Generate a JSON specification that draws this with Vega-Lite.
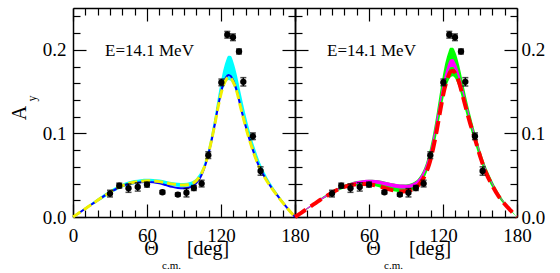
{
  "$schema": "https://vega.github.io/schema/vega-lite/v6.json",
  "autosize": {"type": "pad"},
  "padding": {"left": 10, "top": 7, "right": 0, "bottom": 0},
  "background": "white",
  "spacing": 0,
  "bounds": "flush",
  "config": {
    "font": "Liberation Serif",
    "view": {"stroke": null},
    "axis": {"grid": false, "domainColor": "#000", "domainWidth": 1.5, "tickColor": "#000", "tickWidth": 1.2, "labelFont": "Liberation Serif", "labelFontSize": 19, "labelColor": "#000", "title": null, "labelOverlap": false, "labelFlush": false, "zindex": 1},
    "text": {"font": "Liberation Serif", "color": "#000"}
  },
  "datasets": {
    "curves": [
      {"x":0,"blue":0,"yel":0,"clo":0,"chi":0,"red":0,"mlo":0,"mhi":0,"glo":0,"ghi":0},
      {"x":5,"blue":0.005,"yel":0.005,"clo":0.0045,"chi":0.0058,"red":0.005,"mlo":0.0048,"mhi":0.0055,"glo":0.0045,"ghi":0.0056},
      {"x":10,"blue":0.010,"yel":0.010,"clo":0.0092,"chi":0.0113,"red":0.010,"mlo":0.0097,"mhi":0.011,"glo":0.0093,"ghi":0.0112},
      {"x":15,"blue":0.015,"yel":0.015,"clo":0.0138,"chi":0.0167,"red":0.015,"mlo":0.0145,"mhi":0.016,"glo":0.014,"ghi":0.0165},
      {"x":20,"blue":0.020,"yel":0.020,"clo":0.0183,"chi":0.022,"red":0.020,"mlo":0.0193,"mhi":0.021,"glo":0.0187,"ghi":0.0215},
      {"x":25,"blue":0.025,"yel":0.025,"clo":0.0228,"chi":0.0272,"red":0.0245,"mlo":0.024,"mhi":0.026,"glo":0.0232,"ghi":0.0265},
      {"x":30,"blue":0.0295,"yel":0.0297,"clo":0.0273,"chi":0.032,"red":0.029,"mlo":0.0285,"mhi":0.0305,"glo":0.0275,"ghi":0.031},
      {"x":35,"blue":0.0335,"yel":0.034,"clo":0.0316,"chi":0.0362,"red":0.033,"mlo":0.0325,"mhi":0.0345,"glo":0.0315,"ghi":0.035},
      {"x":40,"blue":0.037,"yel":0.0375,"clo":0.0352,"chi":0.0398,"red":0.036,"mlo":0.0357,"mhi":0.038,"glo":0.0345,"ghi":0.0385},
      {"x":45,"blue":0.0393,"yel":0.040,"clo":0.0378,"chi":0.0424,"red":0.038,"mlo":0.0381,"mhi":0.0408,"glo":0.0366,"ghi":0.041},
      {"x":50,"blue":0.0408,"yel":0.0418,"clo":0.0396,"chi":0.0442,"red":0.0392,"mlo":0.0396,"mhi":0.0428,"glo":0.0378,"ghi":0.043},
      {"x":55,"blue":0.0417,"yel":0.0428,"clo":0.0406,"chi":0.0453,"red":0.0396,"mlo":0.0404,"mhi":0.044,"glo":0.0382,"ghi":0.0441},
      {"x":60,"blue":0.042,"yel":0.0433,"clo":0.0411,"chi":0.0458,"red":0.0392,"mlo":0.0405,"mhi":0.0445,"glo":0.0379,"ghi":0.0446},
      {"x":65,"blue":0.0415,"yel":0.0431,"clo":0.041,"chi":0.0456,"red":0.038,"mlo":0.040,"mhi":0.0442,"glo":0.0367,"ghi":0.0443},
      {"x":70,"blue":0.0402,"yel":0.0423,"clo":0.0401,"chi":0.0448,"red":0.036,"mlo":0.0388,"mhi":0.0432,"glo":0.0348,"ghi":0.0433},
      {"x":75,"blue":0.0383,"yel":0.041,"clo":0.0388,"chi":0.0435,"red":0.0337,"mlo":0.037,"mhi":0.0415,"glo":0.0326,"ghi":0.0417},
      {"x":80,"blue":0.0362,"yel":0.0396,"clo":0.0373,"chi":0.042,"red":0.0317,"mlo":0.0352,"mhi":0.040,"glo":0.0307,"ghi":0.0402},
      {"x":85,"blue":0.0348,"yel":0.0386,"clo":0.0363,"chi":0.041,"red":0.0305,"mlo":0.0341,"mhi":0.0388,"glo":0.0296,"ghi":0.039},
      {"x":90,"blue":0.0345,"yel":0.0382,"clo":0.0359,"chi":0.0406,"red":0.0307,"mlo":0.034,"mhi":0.0387,"glo":0.0298,"ghi":0.039},
      {"x":95,"blue":0.0357,"yel":0.0392,"clo":0.037,"chi":0.0418,"red":0.0328,"mlo":0.0355,"mhi":0.0402,"glo":0.0318,"ghi":0.0406},
      {"x":100,"blue":0.0405,"yel":0.0435,"clo":0.0412,"chi":0.0465,"red":0.0378,"mlo":0.0405,"mhi":0.0452,"glo":0.0365,"ghi":0.046},
      {"x":103,"blue":0.0465,"yel":0.049,"clo":0.0468,"chi":0.0525,"red":0.0435,"mlo":0.0465,"mhi":0.0515,"glo":0.042,"ghi":0.0528},
      {"x":106,"blue":0.0565,"yel":0.058,"clo":0.0558,"chi":0.0625,"red":0.052,"mlo":0.0555,"mhi":0.0615,"glo":0.0502,"ghi":0.0635},
      {"x":109,"blue":0.0705,"yel":0.0715,"clo":0.0693,"chi":0.0775,"red":0.064,"mlo":0.069,"mhi":0.076,"glo":0.0618,"ghi":0.079},
      {"x":112,"blue":0.089,"yel":0.0895,"clo":0.0872,"chi":0.0975,"red":0.082,"mlo":0.0875,"mhi":0.0955,"glo":0.0792,"ghi":0.0995},
      {"x":115,"blue":0.111,"yel":0.111,"clo":0.1085,"chi":0.121,"red":0.104,"mlo":0.1105,"mhi":0.1195,"glo":0.1005,"ghi":0.125},
      {"x":118,"blue":0.135,"yel":0.134,"clo":0.131,"chi":0.147,"red":0.129,"mlo":0.135,"mhi":0.145,"glo":0.1245,"ghi":0.153},
      {"x":121,"blue":0.155,"yel":0.153,"clo":0.150,"chi":0.170,"red":0.152,"mlo":0.157,"mhi":0.167,"glo":0.1465,"ghi":0.178},
      {"x":124,"blue":0.167,"yel":0.164,"clo":0.161,"chi":0.1865,"red":0.167,"mlo":0.1725,"mhi":0.1825,"glo":0.1615,"ghi":0.1955},
      {"x":126,"blue":0.170,"yel":0.167,"clo":0.164,"chi":0.193,"red":0.1735,"mlo":0.179,"mhi":0.1885,"glo":0.167,"ghi":0.2025},
      {"x":128,"blue":0.1685,"yel":0.166,"clo":0.163,"chi":0.1925,"red":0.175,"mlo":0.1795,"mhi":0.189,"glo":0.1685,"ghi":0.2025},
      {"x":130,"blue":0.163,"yel":0.161,"clo":0.158,"chi":0.1855,"red":0.172,"mlo":0.1755,"mhi":0.1845,"glo":0.1655,"ghi":0.197},
      {"x":133,"blue":0.150,"yel":0.149,"clo":0.146,"chi":0.169,"red":0.161,"mlo":0.164,"mhi":0.172,"glo":0.1545,"ghi":0.182},
      {"x":136,"blue":0.131,"yel":0.1305,"clo":0.128,"chi":0.148,"red":0.145,"mlo":0.148,"mhi":0.155,"glo":0.139,"ghi":0.162},
      {"x":139,"blue":0.114,"yel":0.1135,"clo":0.1115,"chi":0.128,"red":0.128,"mlo":0.131,"mhi":0.137,"glo":0.1225,"ghi":0.142},
      {"x":142,"blue":0.098,"yel":0.0975,"clo":0.0958,"chi":0.110,"red":0.112,"mlo":0.114,"mhi":0.119,"glo":0.107,"ghi":0.1235},
      {"x":145,"blue":0.084,"yel":0.0835,"clo":0.082,"chi":0.094,"red":0.098,"mlo":0.099,"mhi":0.103,"glo":0.0925,"ghi":0.1065},
      {"x":148,"blue":0.071,"yel":0.0705,"clo":0.069,"chi":0.080,"red":0.083,"mlo":0.0845,"mhi":0.088,"glo":0.078,"ghi":0.091},
      {"x":151,"blue":0.060,"yel":0.0595,"clo":0.0583,"chi":0.0675,"red":0.0685,"mlo":0.0705,"mhi":0.0735,"glo":0.0645,"ghi":0.076},
      {"x":155,"blue":0.049,"yel":0.0485,"clo":0.0475,"chi":0.0545,"red":0.0525,"mlo":0.0545,"mhi":0.057,"glo":0.0495,"ghi":0.0595},
      {"x":160,"blue":0.037,"yel":0.0367,"clo":0.0358,"chi":0.041,"red":0.0375,"mlo":0.039,"mhi":0.041,"glo":0.0352,"ghi":0.043},
      {"x":165,"blue":0.027,"yel":0.0268,"clo":0.026,"chi":0.030,"red":0.025,"mlo":0.026,"mhi":0.0275,"glo":0.0233,"ghi":0.029},
      {"x":170,"blue":0.0175,"yel":0.0173,"clo":0.0167,"chi":0.0195,"red":0.0155,"mlo":0.016,"mhi":0.017,"glo":0.0143,"ghi":0.018},
      {"x":175,"blue":0.0085,"yel":0.0084,"clo":0.0079,"chi":0.0097,"red":0.0075,"mlo":0.0077,"mhi":0.0082,"glo":0.0068,"ghi":0.0088},
      {"x":180,"blue":0,"yel":0,"clo":0,"chi":0,"red":0,"mlo":0,"mhi":0,"glo":0,"ghi":0}
    ],
    "exp": [
      {"x":30,"y":0.028,"e":0.004},
      {"x":37.5,"y":0.0375,"e":0.003},
      {"x":45,"y":0.0345,"e":0.005},
      {"x":52.5,"y":0.036,"e":0.005},
      {"x":60,"y":0.0388,"e":0.003},
      {"x":72.5,"y":0.0296,"e":0.002},
      {"x":85,"y":0.0268,"e":0.002},
      {"x":92,"y":0.029,"e":0.005},
      {"x":98,"y":0.0347,"e":0.003},
      {"x":104.3,"y":0.040,"e":0.004},
      {"x":109.7,"y":0.074,"e":0.004},
      {"x":120.3,"y":0.161,"e":0.004},
      {"x":125.1,"y":0.218,"e":0.004},
      {"x":129.7,"y":0.215,"e":0.004},
      {"x":134.6,"y":0.198,"e":0.003},
      {"x":138.1,"y":0.1617,"e":0.005},
      {"x":145.9,"y":0.0966,"e":0.004},
      {"x":152.1,"y":0.055,"e":0.005}
    ]
  },
  "hconcat": [
    {
      "width": 222,
      "height": 209,
      "resolve": {"axis": {"x": "independent", "y": "independent"}},
      "layer": [
        {
          "data": {"name": "curves"},
          "mark": {"type": "area", "color": "#00ffff", "opacity": 1, "interpolate": "monotone"},
          "encoding": {
            "x": {"field": "x", "type": "quantitative", "scale": {"domain": [0, 180], "nice": false},
              "axis": {"orient": "bottom", "values": [0,10,20,30,40,50,60,70,80,90,100,110,120,130,140,150,160,170,180], "format": "d",
                "tickSize": {"condition": {"test": "datum.value % 60 === 0", "value": -13}, "value": -7},
                "labelExpr": "datum.value % 60 === 0 ? datum.label : ''", "labelPadding": 22}},
            "y": {"field": "chi", "type": "quantitative", "scale": {"domain": [0, 0.25], "nice": false},
              "axis": {"orient": "left", "values": [0,0.02,0.04,0.06,0.08,0.1,0.12,0.14,0.16,0.18,0.2,0.22,0.24], "format": ".1f",
                "tickSize": {"condition": {"test": "datum.value === 0 || datum.value === 0.1 || datum.value === 0.2", "value": -13}, "value": -7},
                "labelExpr": "datum.value === 0 || datum.value === 0.1 || datum.value === 0.2 ? datum.label : ''", "labelPadding": 20}},
            "y2": {"field": "clo"}
          }
        },
        {
          "data": {"name": "curves"},
          "mark": {"type": "line", "color": "#0000ff", "strokeWidth": 2, "interpolate": "monotone"},
          "encoding": {
            "x": {"field": "x", "type": "quantitative", "axis": null},
            "y": {"field": "blue", "type": "quantitative", "axis": null}
          }
        },
        {
          "data": {"name": "curves"},
          "mark": {"type": "line", "color": "#f0f000", "strokeWidth": 3, "strokeDash": [9, 4], "interpolate": "monotone"},
          "encoding": {
            "x": {"field": "x", "type": "quantitative", "axis": null},
            "y": {"field": "yel", "type": "quantitative", "axis": null}
          }
        },
        {
          "data": {"name": "exp"},
          "mark": {"type": "errorbar", "ticks": true, "size": 6, "thickness": 1.5, "color": "#000"},
          "encoding": {
            "x": {"field": "x", "type": "quantitative", "axis": null},
            "y": {"field": "y", "type": "quantitative", "axis": null},
            "yError": {"field": "e"}
          }
        },
        {
          "data": {"name": "exp"},
          "mark": {"type": "circle", "size": 40, "color": "#000", "opacity": 1},
          "encoding": {
            "x": {"field": "x", "type": "quantitative",
              "axis": {"orient": "top", "values": [0,10,20,30,40,50,60,70,80,90,100,110,120,130,140,150,160,170,180], "labels": false,
                "tickSize": {"condition": {"test": "datum.value % 60 === 0", "value": -13}, "value": -7}}},
            "y": {"field": "y", "type": "quantitative",
              "axis": {"orient": "right", "values": [0,0.02,0.04,0.06,0.08,0.1,0.12,0.14,0.16,0.18,0.2,0.22,0.24], "labels": false,
                "tickSize": {"condition": {"test": "datum.value === 0 || datum.value === 0.1 || datum.value === 0.2", "value": -13}, "value": -7}}}
          }
        },
        {
          "data": {"values": [{}]},
          "mark": {"type": "text", "text": "E=14.1 MeV", "font": "Liberation Serif", "fontSize": 17, "align": "center", "baseline": "alphabetic"},
          "encoding": {"x": {"datum": 62, "type": "quantitative", "axis": null}, "y": {"datum": 0.193, "type": "quantitative", "axis": null}}
        },
        {
          "data": {"values": [{}]},
          "mark": {"type": "text", "text": "Θ", "font": "Liberation Serif", "fontSize": 20, "align": "center", "baseline": "alphabetic"},
          "encoding": {"x": {"datum": 63.6, "type": "quantitative", "axis": null}, "y": {"datum": -0.046, "type": "quantitative", "axis": null}}
        },
        {
          "data": {"values": [{}]},
          "mark": {"type": "text", "text": "c.m.", "font": "Liberation Serif", "fontSize": 11, "align": "left", "baseline": "alphabetic"},
          "encoding": {"x": {"datum": 72.2, "type": "quantitative", "axis": null}, "y": {"datum": -0.0625, "type": "quantitative", "axis": null}}
        },
        {
          "data": {"values": [{}]},
          "mark": {"type": "text", "text": "[deg]", "font": "Liberation Serif", "fontSize": 20, "align": "left", "baseline": "alphabetic"},
          "encoding": {"x": {"datum": 92.4, "type": "quantitative", "axis": null}, "y": {"datum": -0.046, "type": "quantitative", "axis": null}}
        },
        {
          "data": {"values": [{}]},
          "mark": {"type": "text", "text": "A", "font": "Liberation Serif", "fontSize": 20, "angle": 270, "align": "center", "baseline": "alphabetic"},
          "encoding": {"x": {"datum": -38.1, "type": "quantitative", "axis": null}, "y": {"datum": 0.1244, "type": "quantitative", "axis": null}}
        },
        {
          "data": {"values": [{}]},
          "mark": {"type": "text", "text": "y", "font": "Liberation Serif", "fontSize": 12, "angle": 270, "align": "center", "baseline": "alphabetic"},
          "encoding": {"x": {"datum": -30.0, "type": "quantitative", "axis": null}, "y": {"datum": 0.1417, "type": "quantitative", "axis": null}}
        }
      ]
    },
    {
      "width": 222,
      "height": 209,
      "resolve": {"axis": {"x": "independent", "y": "independent"}},
      "layer": [
        {
          "data": {"name": "curves"},
          "mark": {"type": "area", "color": "#00ff00", "opacity": 1, "interpolate": "monotone"},
          "encoding": {
            "x": {"field": "x", "type": "quantitative", "scale": {"domain": [0, 180], "nice": false},
              "axis": {"orient": "bottom", "values": [0,10,20,30,40,50,60,70,80,90,100,110,120,130,140,150,160,170,180], "format": "d",
                "tickSize": {"condition": {"test": "datum.value % 60 === 0", "value": -13}, "value": -7},
                "labelExpr": "datum.value % 60 === 0 && datum.value > 0 ? datum.label : ''", "labelPadding": 22}},
            "y": {"field": "ghi", "type": "quantitative", "scale": {"domain": [0, 0.25], "nice": false},
              "axis": {"orient": "left", "values": [0,0.02,0.04,0.06,0.08,0.1,0.12,0.14,0.16,0.18,0.2,0.22,0.24], "labels": false,
                "tickSize": {"condition": {"test": "datum.value === 0 || datum.value === 0.1 || datum.value === 0.2", "value": -13}, "value": -7}}},
            "y2": {"field": "glo"}
          }
        },
        {
          "data": {"name": "curves"},
          "mark": {"type": "area", "color": "#ff00ff", "opacity": 1, "interpolate": "monotone"},
          "encoding": {
            "x": {"field": "x", "type": "quantitative", "axis": null},
            "y": {"field": "mhi", "type": "quantitative", "axis": null},
            "y2": {"field": "mlo"}
          }
        },
        {
          "data": {"name": "curves"},
          "mark": {"type": "line", "color": "#ff0000", "strokeWidth": 4, "strokeDash": [13, 6], "interpolate": "monotone"},
          "encoding": {
            "x": {"field": "x", "type": "quantitative", "axis": null},
            "y": {"field": "red", "type": "quantitative", "axis": null}
          }
        },
        {
          "data": {"name": "exp"},
          "mark": {"type": "errorbar", "ticks": true, "size": 6, "thickness": 1.5, "color": "#000"},
          "encoding": {
            "x": {"field": "x", "type": "quantitative", "axis": null},
            "y": {"field": "y", "type": "quantitative", "axis": null},
            "yError": {"field": "e"}
          }
        },
        {
          "data": {"name": "exp"},
          "mark": {"type": "circle", "size": 40, "color": "#000", "opacity": 1},
          "encoding": {
            "x": {"field": "x", "type": "quantitative",
              "axis": {"orient": "top", "values": [0,10,20,30,40,50,60,70,80,90,100,110,120,130,140,150,160,170,180], "labels": false,
                "tickSize": {"condition": {"test": "datum.value % 60 === 0", "value": -13}, "value": -7}}},
            "y": {"field": "y", "type": "quantitative",
              "axis": {"orient": "right", "values": [0,0.02,0.04,0.06,0.08,0.1,0.12,0.14,0.16,0.18,0.2,0.22,0.24], "format": ".1f",
                "tickSize": {"condition": {"test": "datum.value === 0 || datum.value === 0.1 || datum.value === 0.2", "value": -13}, "value": -7},
                "labelExpr": "datum.value === 0 || datum.value === 0.1 || datum.value === 0.2 ? datum.label : ''", "labelPadding": 17}}
          }
        },
        {
          "data": {"values": [{}]},
          "mark": {"type": "text", "text": "E=14.1 MeV", "font": "Liberation Serif", "fontSize": 17, "align": "center", "baseline": "alphabetic"},
          "encoding": {"x": {"datum": 62, "type": "quantitative", "axis": null}, "y": {"datum": 0.193, "type": "quantitative", "axis": null}}
        },
        {
          "data": {"values": [{}]},
          "mark": {"type": "text", "text": "Θ", "font": "Liberation Serif", "fontSize": 20, "align": "center", "baseline": "alphabetic"},
          "encoding": {"x": {"datum": 63.6, "type": "quantitative", "axis": null}, "y": {"datum": -0.046, "type": "quantitative", "axis": null}}
        },
        {
          "data": {"values": [{}]},
          "mark": {"type": "text", "text": "c.m.", "font": "Liberation Serif", "fontSize": 11, "align": "left", "baseline": "alphabetic"},
          "encoding": {"x": {"datum": 72.2, "type": "quantitative", "axis": null}, "y": {"datum": -0.0625, "type": "quantitative", "axis": null}}
        },
        {
          "data": {"values": [{}]},
          "mark": {"type": "text", "text": "[deg]", "font": "Liberation Serif", "fontSize": 20, "align": "left", "baseline": "alphabetic"},
          "encoding": {"x": {"datum": 92.4, "type": "quantitative", "axis": null}, "y": {"datum": -0.046, "type": "quantitative", "axis": null}}
        }
      ]
    }
  ]
}
